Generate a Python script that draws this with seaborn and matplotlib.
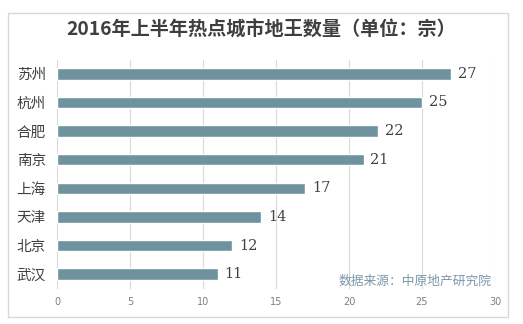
import matplotlib
matplotlib.use("Agg")
import matplotlib.pyplot as plt
import seaborn as sns
import pandas as pd
from matplotlib.patches import Rectangle

cities = ["苏州", "杭州", "合肥", "南京", "上海", "天津", "北京", "武汉"]
counts = [27, 25, 22, 21, 17, 14, 12, 11]
x_ticks = [0, 5, 10, 15, 20, 25, 30]
title = "2016年上半年热点城市地王数量（单位：宗）"
source = "数据来源：中原地产研究院"

sns.set_theme(style="white")
plt.rcParams["font.family"] = ["Noto Sans CJK SC", "DejaVu Sans"]

df = pd.DataFrame({"city": cities, "count": counts})

fig = plt.figure(figsize=(5.23, 3.24), dpi=100)
fig.patch.set_facecolor("white")
# light frame around the chart area
fig.add_artist(Rectangle((8 / 523, 1 - 317 / 324), 500 / 523, 304 / 324,
                         transform=fig.transFigure, fill=False,
                         edgecolor="#d9d9d9", linewidth=1.0))

ax = fig.add_axes([57 / 523, 1 - 288.5 / 324, 438 / 523, 229 / 324])
sns.barplot(data=df, x="count", y="city", orient="h", color="#6e939e",
            saturation=1, width=0.4, ax=ax)

ax.set_xlim(0, 30)
ax.set_ylim(7.5, -0.5)
ax.set_xticks(x_ticks)
ax.set_xticklabels([str(t) for t in x_ticks], fontsize=7, color="#7f7f7f",
                   family=["DejaVu Sans"])
ax.tick_params(axis="x", length=0, pad=6)
ax.tick_params(axis="y", length=0, pad=8, labelsize=10.5, labelcolor="#404040")
ax.grid(axis="x", color="#d9d9d9", linewidth=0.8)
ax.set_axisbelow(True)
for s in ax.spines.values():
    s.set_visible(False)
ax.set_xlabel("")
ax.set_ylabel("")

for i, v in enumerate(counts):
    ax.text(v + 0.45, i, str(v), va="center", ha="left", fontsize=10.5,
            color="#404040", family=["DejaVu Serif"])

fig.text(0.5, 1 - 30 / 324, title, ha="center", va="center", fontsize=13.8,
         fontweight="bold", color="#3f3f3f")
fig.text(492 / 523, 1 - 281 / 324, source, ha="right", va="center",
         fontsize=9.2, color="#7b97a8")

fig.savefig("out.png", dpi=100)
